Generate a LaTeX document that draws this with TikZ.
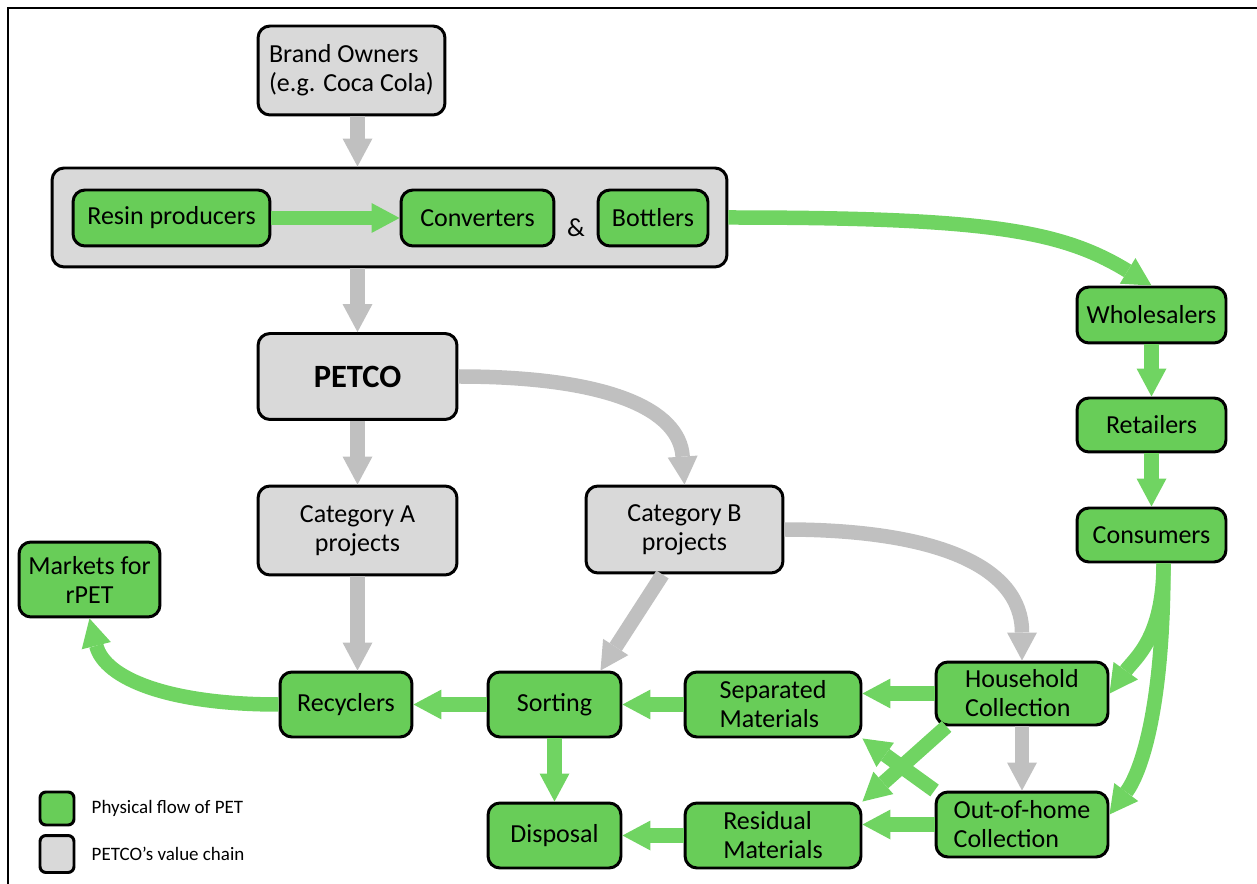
\documentclass[tikz,border=0pt]{standalone}
\usepackage{fontspec}
\setmainfont{Carlito}
\usepackage{xcolor}
\usetikzlibrary{positioning,arrows.meta,calc}
\definecolor{petgreen}{RGB}{104,205,88}
\definecolor{flowgreen}{RGB}{112,212,98}
\definecolor{petgray}{RGB}{217,217,217}
\definecolor{chaingray}{RGB}{192,192,192}

\begin{document}
\begin{tikzpicture}[x=0.02cm, y=-0.02cm,
  box/.style={draw, fill=#1, line width=1.7pt, rounded corners=2.4mm, align=center, inner sep=2pt,
    font=\fontsize{14.8}{16.5}\selectfont},
  grn/.style={box=petgreen},
  gry/.style={box=petgray},
  garr/.style={draw=flowgreen, line width=0.29cm, -{Triangle[length=0.56cm, width=0.6cm, line width=0pt]}},
  parr/.style={draw=chaingray, line width=0.29cm, -{Triangle[length=0.56cm, width=0.6cm, line width=0pt]}}]
\useasboundingbox (0,0) rectangle (1257,884);
\draw[line width=1.6pt] (8,884) -- (8,8) -- (1257,8);

\node[gry, minimum width=3.74cm, minimum height=1.78cm, align=left] (brand) at (351.5,70.5) {Brand Owners\\(e.g. Coca Cola)};
\node[gry, minimum width=13.5cm, minimum height=1.98cm] (chain) at (389.5,217.5) {};
\node[grn, minimum width=3.94cm, minimum height=1.12cm] (resin) at (171.5,218) {Resin producers};
\node[grn, minimum width=3.06cm, minimum height=1.12cm] (conv) at (477.5,218) {Converters};
\node[font=\fontsize{14.8}{16.5}\selectfont] (amp) at (576,228) {\&};
\node[grn, minimum width=2.2cm, minimum height=1.12cm] (bottl) at (653,218) {Bottlers};
\node[gry, minimum width=3.98cm, minimum height=1.72cm, font=\fontsize{18.5}{20}\selectfont\bfseries] (petco) at (357.5,376.5) {PETCO};
\node[gry, minimum width=3.98cm, minimum height=1.78cm] (catA) at (357.5,530.5) {Category A\\projects};
\node[gry, minimum width=3.94cm, minimum height=1.74cm] (catB) at (684.5,529.5) {Category B\\projects};
\node[grn, minimum width=2.98cm, minimum height=1.12cm] (whole) at (1151.5,315) {Wholesalers};
\node[grn, minimum width=2.98cm, minimum height=1.08cm] (retail) at (1151.5,425) {Retailers};
\node[grn, minimum width=2.98cm, minimum height=1.08cm] (consum) at (1151.5,535) {Consumers};
\node[grn, minimum width=2.82cm, minimum height=1.5cm] (markets) at (89.5,579.5) {Markets for\\rPET};
\node[grn, minimum width=2.64cm, minimum height=1.3cm] (recyc) at (346,704.5) {Recyclers};
\node[grn, minimum width=2.66cm, minimum height=1.3cm] (sorting) at (554.5,704.5) {Sorting};
\node[grn, minimum width=3.52cm, minimum height=1.3cm, align=left] (separ) at (773,704.5) {Separated\\Materials};
\node[grn, minimum width=3.44cm, minimum height=1.26cm, align=left] (house) at (1022,693.5) {Household\\Collection};
\node[grn, minimum width=2.66cm, minimum height=1.3cm] (disposal) at (554.5,835.5) {Disposal};
\node[grn, minimum width=3.52cm, minimum height=1.3cm, align=left] (resid) at (773,835.5) {Residual\\Materials};
\node[grn, minimum width=3.44cm, minimum height=1.3cm, align=left] (ooh) at (1022,824.5) {Out-of-home\\Collection};

\node[grn, rounded corners=1.2mm, minimum width=0.68cm, minimum height=0.66cm] (keygrn) at (57,808.5) {};
\node[gry, rounded corners=1.2mm, minimum width=0.68cm, minimum height=0.74cm] (keygry) at (57,854) {};
\node[font=\fontsize{10.8}{12}\selectfont, right=0.2cm of keygrn] (keygrntxt) {Physical flow of PET};
\node[font=\fontsize{10.8}{12}\selectfont, right=0.2cm of keygry] (keygrytxt) {PETCO’s value chain};

\draw[parr] (brand.south -| petco) -- (chain.north -| petco);
\draw[parr] (chain.south -| petco) -- (petco.north);
\foreach \a/\b in {petco/catA,house/ooh} \draw[parr] (\a) -- (\b);
\draw[parr] (catA.south) -- (catA.south |- recyc.north);
\draw[parr] (petco.east) .. controls +(150,0) and +(-5,-75) .. (catB.north);
\draw[parr] ($(catB.south)+(-22,0)$) -- ($(sorting.north)+(46,0)$);
\draw[parr] (catB.east) .. controls +(150,0) and +(0,-95) .. (house.north);

\foreach \a/\b in {resin/conv,whole/retail,retail/consum,separ/sorting,sorting/recyc,sorting/disposal,resid/disposal} \draw[garr] (\a) -- (\b);
\draw[garr] (chain.east) .. controls +(260,0) and +(-90,-55) .. (whole.north);
\draw[garr] ($(consum.south)+(12,0)$) .. controls +(0,75) and +(25,-35) .. (house.east);
\draw[garr] ($(consum.south)+(12,0)$) .. controls +(0,150) and +(30,-40) .. ($(ooh.east)+(0,-10)$);
\draw[garr] (house.west) -- (house.west -| separ.east);
\draw[garr] (ooh.west) -- (ooh.west -| resid.east);
\draw[garr] ($(house.south west)+(12,0)$) -- (resid.north east);
\draw[garr] (ooh.north west) -- (separ.south east);
\draw[garr] (recyc.west) .. controls +(-110,0) and +(15,60) .. (markets.south);
\end{tikzpicture}
\end{document}
